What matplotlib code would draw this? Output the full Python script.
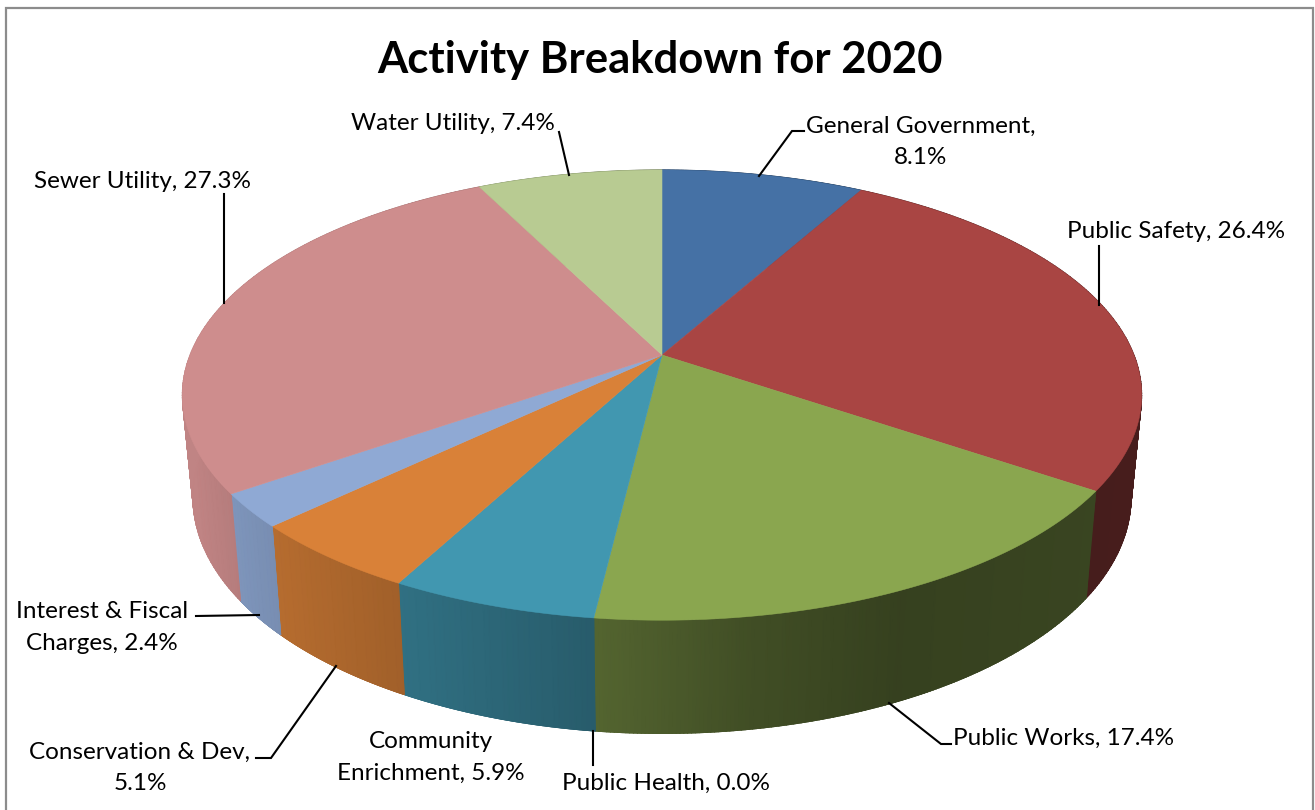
import numpy as np
import matplotlib
matplotlib.use("Agg")
import matplotlib.pyplot as plt
from matplotlib.colors import LinearSegmentedColormap, to_rgb
from matplotlib.patches import Rectangle

# Activity shares for 2020, clockwise from twelve o'clock
categories = ["General Government", "Public Safety", "Public Works", "Public Health",
              "Community Enrichment", "Conservation & Dev", "Interest & Fiscal Charges",
              "Sewer Utility", "Water Utility"]
shares = [8.1, 26.4, 17.4, 0.0, 5.9, 5.1, 2.4, 27.3, 7.4]
title = "Activity Breakdown for 2020"

slice_colors = ["#4571A5", "#A94543", "#8AA64F", "#7D5FA0", "#4197B0",
                "#D98138", "#8FA9D4", "#CE8D8D", "#B8CB92"]

# Label text with the wrapped lines used on the chart
label_lines = [
    ["General Government,", "8.1%"],
    ["Public Safety, 26.4%"],
    ["Public Works, 17.4%"],
    ["Public Health, 0.0%"],
    ["Community", "Enrichment, 5.9%"],
    ["Conservation & Dev,", "5.1%"],
    ["Interest & Fiscal", "Charges, 2.4%"],
    ["Sewer Utility, 27.3%"],
    ["Water Utility, 7.4%"],
]
# Centre of each label block in canvas pixels
label_centres = [(921, 142), (1176, 231), (1064, 738), (666, 783), (431, 757),
                 (140, 768), (102, 628), (143, 181), (453, 124)]
leaders = [
    [(759, 176), (792, 131), (804, 131)],
    [(1099, 305), (1099, 246)],
    [(889, 703), (941, 744), (951, 744)],
    [(593, 731), (593, 765)],
    None,
    [(336, 666), (271, 758), (256, 758)],
    [(196, 616), (259, 615)],
    [(224, 303), (224, 194)],
    [(569, 175), (559, 132)],
]

plt.rcParams["font.family"] = ["Lato", "DejaVu Sans"]
W, H = 1315, 810
fig = plt.figure(figsize=(W / 100, H / 100), dpi=100, facecolor="white")
ax = fig.add_axes([0, 0, 1, 1])
ax.set_xlim(0, W)
ax.set_ylim(H, 0)
ax.axis("off")

ax.add_patch(Rectangle((6.5, 7.5), 1306.5, 820, fc="white", ec="#8C8C8C", lw=1.6, zorder=0))

# Tilted disc: a unit circle seen through a perspective mapping
CX, CY, RX, RY, K = 662.0, 355.0, 472.0, 218.0, 0.178
BOTTOM_CY, BOTTOM_SX, BOTTOM_SY = 455.0, 0.978, 1.05


def top_face(theta):
    u, v = np.sin(theta), np.cos(theta)
    w = 1 + K * v
    return CX + RX * u / w, CY - RY * v / w


def bottom_face(theta):
    x, y = top_face(theta)
    return CX + BOTTOM_SX * (x - CX), BOTTOM_CY + BOTTOM_SY * (y - CY)


def side_shade(x):
    return np.interp(x, [193, 240, 280, 400, 590, 750, 900, 1130],
                     [0.93, 0.87, 0.83, 0.74, 0.61, 0.47, 0.39, 0.42])


edges = np.cumsum([0.0] + shares) / sum(shares) * 2 * np.pi

# Side wall: a smooth-shaded mesh per slice, with a fine rim to soften its lower edge
for i, color in enumerate(slice_colors):
    if shares[i] == 0:
        continue
    ramp = LinearSegmentedColormap.from_list(f"side{i}", ["black", color])
    t = np.linspace(edges[i], edges[i + 1], 160)
    x0, y0 = top_face(t)
    x1, y1 = bottom_face(t)
    shade = side_shade(x0)
    ax.pcolormesh(np.vstack([x0, x1]), np.vstack([y0, y1]), np.vstack([shade, shade]),
                  cmap=ramp, vmin=0, vmax=1, shading="gouraud", zorder=1)
    base = np.array(to_rgb(color))
    for j in range(len(t) - 1):
        ax.plot(x1[j:j + 2], y1[j:j + 2], color=tuple(base * shade[j]), lw=0.7,
                solid_capstyle="round", zorder=1)

# Top face
for i, color in enumerate(slice_colors):
    if shares[i] == 0:
        continue
    t = np.linspace(edges[i], edges[i + 1], 200)
    x, y = top_face(t)
    ax.fill(np.r_[CX, x], np.r_[CY, y], fc=color, ec=color, lw=0.4, zorder=2)

for path in leaders:
    if path:
        xs, ys = zip(*path)
        ax.plot(xs, ys, color="black", lw=1.5, zorder=3, solid_joinstyle="miter")

LINE_GAP = 32
for lines, (cx, cy) in zip(label_lines, label_centres):
    for k, line in enumerate(lines):
        y = cy + (k - (len(lines) - 1) / 2) * LINE_GAP
        ax.text(cx, y, line, ha="center", va="center", fontsize=17.5, color="black", zorder=4)

ax.text(660, 60, title, ha="center", va="center", fontsize=31.4, fontweight="bold",
        color="black", zorder=4)

fig.savefig("out.png", dpi=100, facecolor="white")
